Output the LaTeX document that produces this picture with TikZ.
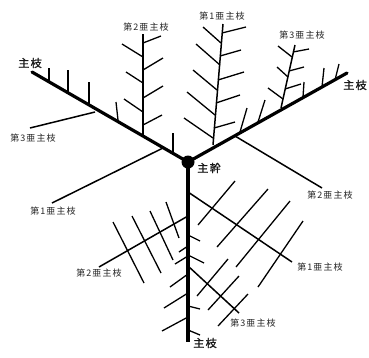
\documentclass[tikz,border=0pt]{standalone}
\usepackage{fontspec}
\newfontfamily\cjk[LetterSpace=12]{Noto Sans CJK JP}
\newfontfamily\cjkbold[LetterSpace=12,FakeBold=1.6]{Noto Sans CJK JP}
\begin{document}
\begin{tikzpicture}[x=1pt,y=-1pt,
  mainline/.style={line width=3.2pt,line cap=round},
  subline/.style={line width=1.5pt},
  tickline/.style={line width=1.3pt},
  sublabel/.style={font=\cjk\fontsize{9}{10}\selectfont,text=black!85,inner sep=0pt},
  mainlabel/.style={font=\cjkbold\fontsize{11}{12}\selectfont,text=black!90,inner sep=0pt}]
\useasboundingbox (0,0) rectangle (369,357);
% key points
\coordinate (c) at (188,162);
\coordinate (lend) at (32,72);
\coordinate (rend) at (347,73);
\coordinate (tend) at (188,342);
% main branches and trunk
\draw[mainline] (c) -- (lend);
\draw[mainline] (c) -- (rend);
\draw[mainline,line cap=butt] (c) -- (tend);
\fill (c) circle (6.5);
% ---- left main branch ticks
\draw[tickline] (49,82) -- (49,68);
\draw[tickline] (68,93) -- (68,70);
\draw[tickline] (89,104) -- (89,82);
\draw[tickline] (118,120) -- (116,102);
\draw[tickline] (173,153) -- (173,133);
% left 2nd sub-branch (up)
\coordinate (l2b) at (143,136);
\coordinate (l2t) at (143,34);
\draw[subline] (l2b) -- (l2t);
\draw[tickline] (143,43) -- (161,36);
\draw[tickline] (143,70) -- (163,58);
\draw[tickline] (143,98) -- (163,86);
\draw[tickline] (143,125) -- (162,115);
\draw[tickline] (143,57) -- (122,44);
\draw[tickline] (143,83) -- (126,72);
\draw[tickline] (143,112) -- (124,99);
% left 3rd and 1st sub-branches
\coordinate (l3b) at (95,112);
\coordinate (l3e) at (30,128);
\draw[subline] (l3b) -- (l3e);
\coordinate (l1b) at (163,148);
\coordinate (l1e) at (52,203);
\draw[subline] (l1b) -- (l1e);
% ---- right main branch ticks
\draw[tickline] (240,132) -- (247,108);
\draw[tickline] (258,122) -- (265,100);
\draw[tickline] (303,97) -- (304,82);
\draw[tickline] (322,87) -- (324,68);
\draw[tickline] (335,80) -- (339,64);
% right 1st sub-branch (up)
\coordinate (r1b) at (213,145);
\coordinate (r1t) at (223,24);
\draw[subline] (r1b) -- (r1t);
\draw[tickline] (222,33) -- (246,27);
\draw[tickline] (220,56) -- (241,50);
\draw[tickline] (218,80) -- (244,72);
\draw[tickline] (216,103) -- (240,95);
\draw[tickline] (214,128) -- (235,122);
\draw[tickline] (221,43) -- (203,27);
\draw[tickline] (220,65) -- (196,44);
\draw[tickline] (217,90) -- (193,70);
\draw[tickline] (215,115) -- (187,92);
\draw[tickline] (213,138) -- (184,118);
% right 3rd sub-branch (up)
\coordinate (r3b) at (281,108);
\coordinate (r3t) at (295,45);
\draw[subline] (r3b) -- (r3t);
\draw[tickline] (293,52) -- (309,49);
\draw[tickline] (289,71) -- (304,67);
\draw[tickline] (285,89) -- (301,84);
\draw[tickline] (292,57) -- (278,46);
\draw[tickline] (288,77) -- (277,67);
\draw[tickline] (283,99) -- (268,88);
% right 2nd sub-branch (down-right)
\coordinate (r2b) at (235,136);
\coordinate (r2e) at (322,188);
\draw[subline] (r2b) -- (r2e);
% ---- lower left 2nd sub-branch
\coordinate (d2b) at (188,216);
\coordinate (d2e) at (99,267);
\draw[subline] (d2b) -- (d2e);
\draw[tickline] (113,222) -- (144,283);
\draw[tickline] (132,216) -- (161,273);
\draw[tickline] (150,211) -- (173,260);
\draw[tickline] (166,202) -- (179,238);
% left trunk ticks
\draw[tickline] (179,252) -- (188,246);
\draw[tickline] (175,264) -- (188,256);
\draw[tickline] (170,287) -- (188,274);
\draw[tickline] (164,308) -- (188,293);
\draw[tickline] (162,331) -- (188,317);
% right trunk ticks
\draw[tickline] (188,235) -- (200,241);
\draw[tickline] (188,255) -- (204,263);
\draw[tickline] (188,306) -- (200,309);
\draw[tickline] (188,330) -- (200,335);
% lower right 1st sub-branch
\coordinate (d1b) at (188,192);
\coordinate (d1e) at (292,262);
\draw[subline] (d1b) -- (d1e);
\draw[tickline] (198,225) -- (235,181);
\draw[tickline] (217,247) -- (268,189);
\draw[tickline] (236,267) -- (290,201);
\draw[tickline] (258,287) -- (303,221);
% lower right 3rd sub-branch
\coordinate (d3b) at (188,266);
\coordinate (d3e) at (239,313);
\draw[subline] (d3b) -- (d3e);
\draw[tickline] (197,296) -- (228,259);
\draw[tickline] (208,310) -- (239,276);
\draw[tickline] (218,326) -- (248,294);
% ---- labels
\node[mainlabel] (lmain) at (30,63) {主枝};
\node[mainlabel] (rmain) at (355,85) {主枝};
\node[mainlabel] (bmain) at (205,343) {主枝};
\node[mainlabel] (trunk) at (209,168) {主幹};
\node[sublabel] (tl2) at (146,27) {第2亜主枝};
\node[sublabel] (tl3) at (33,138) {第3亜主枝};
\node[sublabel] (tl1) at (53,211) {第1亜主枝};
\node[sublabel] (tr1) at (222,16) {第1亜主枝};
\node[sublabel] (tr3) at (302,35) {第3亜主枝};
\node[sublabel] (tr2) at (330,195) {第2亜主枝};
\node[sublabel] (td2) at (99,273) {第2亜主枝};
\node[sublabel] (td1) at (320,267) {第1亜主枝};
\node[sublabel] (td3) at (253,323) {第3亜主枝};
\end{tikzpicture}
\end{document}
